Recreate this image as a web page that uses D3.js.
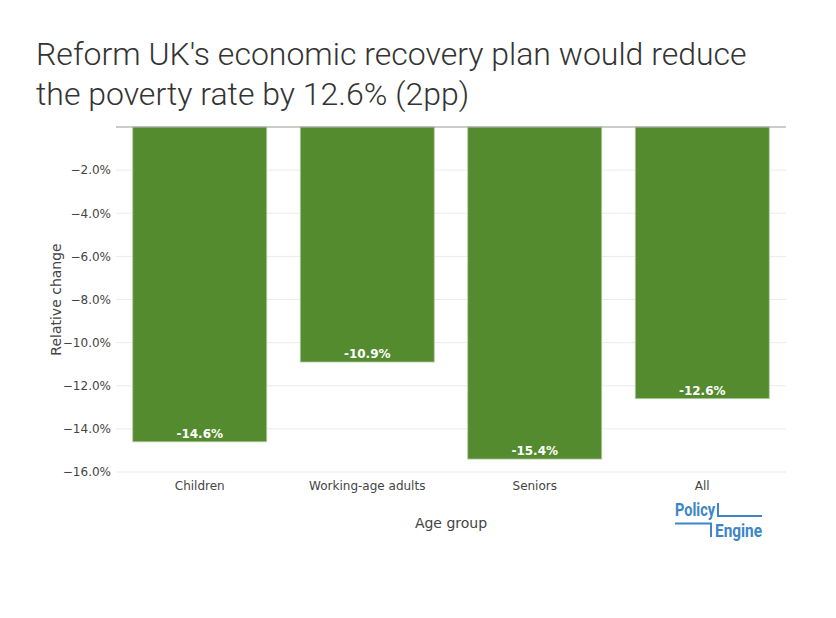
<!DOCTYPE html>
<html>
<head>
<meta charset="utf-8">
<script src="https://cdn.jsdelivr.net/npm/d3@7"></script>
<style>
  body { margin: 0; background: #fff; }
  svg { display: block; }
</style>
</head>
<body>
<svg id="chart" width="836" height="618"></svg>
<script>
// data
const groups = ['Children', 'Working-age adults', 'Seniors', 'All']
const changes = [-14.6, -10.9, -15.4, -12.6]
const yTicks = [-2, -4, -6, -8, -10, -12, -14, -16]

const titleLines = [
  "Reform UK's economic recovery plan would reduce",
  'the poverty rate by 12.6% (2pp)',
]

const width = 836
const height = 618
const margin = { top: 127, right: 50, bottom: 146, left: 116 }
const innerW = width - margin.left - margin.right
const innerH = height - margin.top - margin.bottom

const barColor = '#558b2f'
const tickFont = 'DejaVu Sans, Verdana, sans-serif'
const logoColor = '#3d85c6'

const svg = d3.select('#chart')
svg.append('rect').attr('width', width).attr('height', height).attr('fill', '#fff')

// title
svg
  .append('g')
  .selectAll('text')
  .data(titleLines)
  .join('text')
  .attr('x', 36)
  .attr('y', (d, i) => 65 + i * 40)
  .attr('font-family', 'Roboto, sans-serif')
  .attr('font-weight', 300)
  .attr('font-size', 32)
  .attr('fill', '#333')
  .text(d => d)

const g = svg.append('g').attr('transform', `translate(${margin.left},${margin.top})`)

const x = d3
  .scaleBand()
  .domain(groups)
  .range([0, innerW])
  .paddingInner(0.2)
  .paddingOuter(0.1)
const y = d3.scaleLinear().domain([-16, 0]).range([innerH, 0])

// grid
g.append('g')
  .selectAll('line')
  .data(yTicks)
  .join('line')
  .attr('x1', 0)
  .attr('x2', innerW)
  .attr('y1', d => y(d))
  .attr('y2', d => y(d))
  .attr('stroke', '#ebebeb')
  .attr('stroke-width', 1)

// y axis
const yAxis = g
  .append('g')
  .call(
    d3
      .axisLeft(y)
      .tickValues(yTicks)
      .tickSize(0)
      .tickPadding(5)
      .tickFormat(d => d3.format('.1f')(d) + '%')
  )
yAxis.select('.domain').remove()
yAxis.selectAll('text').attr('font-family', tickFont).attr('font-size', 12).attr('fill', '#444')

// x axis
const xAxis = g
  .append('g')
  .attr('transform', `translate(0,${innerH})`)
  .call(d3.axisBottom(x).tickSize(0).tickPadding(9))
xAxis.select('.domain').remove()
xAxis.selectAll('text').attr('font-family', tickFont).attr('font-size', 12).attr('fill', '#444')

// bars
g.append('g')
  .selectAll('rect')
  .data(changes)
  .join('rect')
  .attr('x', (d, i) => x(groups[i]))
  .attr('y', y(0))
  .attr('width', x.bandwidth())
  .attr('height', d => y(d) - y(0))
  .attr('fill', barColor)
  .attr('stroke', '#b5cca5')
  .attr('stroke-width', 0.8)

// zero line
g.append('line')
  .attr('x1', 0)
  .attr('x2', innerW)
  .attr('y1', y(0))
  .attr('y2', y(0))
  .attr('stroke', '#999')
  .attr('stroke-width', 1)

// bar labels
g.append('g')
  .selectAll('text')
  .data(changes)
  .join('text')
  .attr('x', (d, i) => x(groups[i]) + x.bandwidth() / 2)
  .attr('y', d => y(d) - 4)
  .attr('text-anchor', 'middle')
  .attr('font-family', tickFont)
  .attr('font-size', 12)
  .attr('font-weight', 'bold')
  .attr('fill', '#fff')
  .text(d => `${d.toFixed(1)}%`)

// axis titles
svg
  .append('text')
  .attr('x', margin.left + innerW / 2)
  .attr('y', 528)
  .attr('text-anchor', 'middle')
  .attr('font-family', tickFont)
  .attr('font-size', 14)
  .attr('fill', '#444')
  .text('Age group')

svg
  .append('text')
  .attr('transform', `translate(61,${margin.top + innerH / 2})rotate(-90)`)
  .attr('text-anchor', 'middle')
  .attr('font-family', tickFont)
  .attr('font-size', 14)
  .attr('fill', '#444')
  .text('Relative change')

// logo
const logo = svg.append('g')
logo
  .append('text')
  .attr('x', 675)
  .attr('y', 516)
  .attr('fill', logoColor)
  .attr('font-family', 'Roboto, sans-serif')
  .attr('font-weight', 700)
  .attr('font-size', 18)
  .attr('textLength', 40)
  .attr('lengthAdjust', 'spacingAndGlyphs')
  .text('Policy')
logo
  .append('text')
  .attr('x', 715)
  .attr('y', 537)
  .attr('fill', logoColor)
  .attr('font-family', 'Roboto, sans-serif')
  .attr('font-weight', 700)
  .attr('font-size', 18)
  .attr('textLength', 47)
  .attr('lengthAdjust', 'spacingAndGlyphs')
  .text('Engine')
logo
  .append('path')
  .attr('fill', 'none')
  .attr('stroke', logoColor)
  .attr('stroke-width', 2)
  .attr('d', 'M718,503 V516 H762 M675,523.5 H711 V537')
</script>
</body>
</html>
